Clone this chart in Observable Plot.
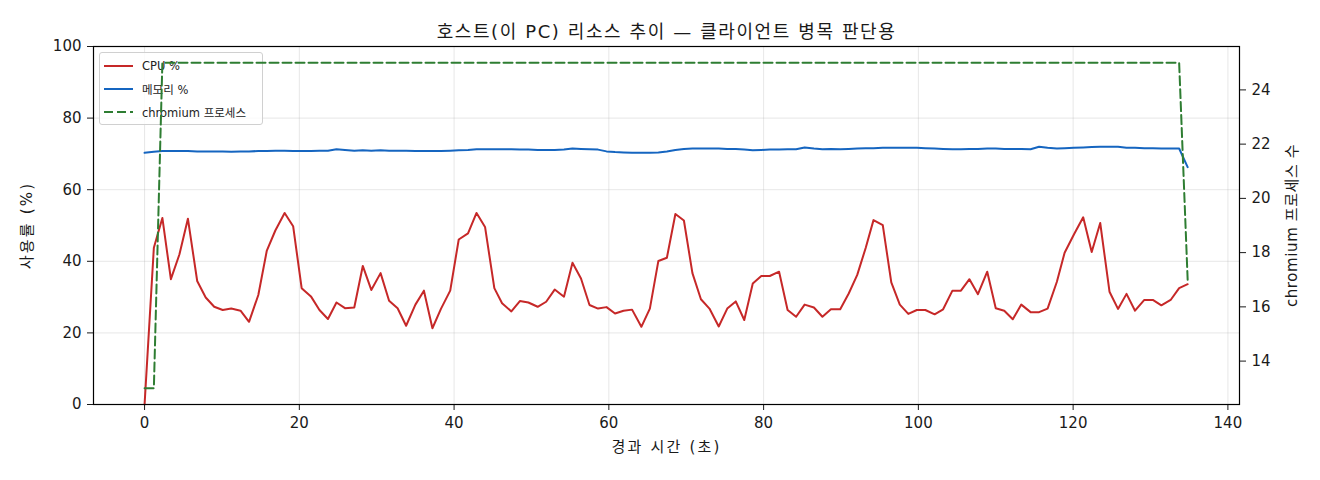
<!DOCTYPE html>
<html>
<head>
<meta charset="utf-8">
<script src="https://cdn.jsdelivr.net/npm/d3@7"></script>
<script src="https://cdn.jsdelivr.net/npm/@observablehq/plot@0.6"></script>
<style>
  body { margin: 0; background: #fff; }
  #wrap { position: relative; width: 1320px; height: 480px; font-family: 'DejaVu Sans', 'Noto Sans CJK KR', sans-serif; }
  #wrap svg { position: absolute; left: 0; top: 0; }
  #legend { position: absolute; left: 99px; top: 52px; width: 162px; height: 71px; border: 1px solid #d0d0d0; border-radius: 3px; background: rgba(255,255,255,0.8); font-size: 11.5px; color: #222; }
  #legend .row { position: absolute; left: 0; height: 20px; display: flex; align-items: center; white-space: nowrap; }
  #legend .row svg { position: static; margin-left: 4px; margin-right: 9px; }
</style>
</head>
<body>
<div id="wrap"></div>
<script>
const titleText = "호스트(이 PC) 리소스 추이 — 클라이언트 병목 판단용";
const xLabel = "경과 시간 (초)";
const yLabel = "사용률 (%)";
const y2Label = "chromium 프로세스 수";
const seriesNames = ["CPU %", "메모리 %", "chromium 프로세스"];
const seriesColors = ["#c62828", "#1565c0", "#2e7d32"];

const times = [
  0,1.2,2.3,3.4,4.5,5.6,6.8,7.9,9.0,10.1,
  11.2,12.4,13.5,14.7,15.8,16.9,18.1,19.2,20.3,21.5,
  22.6,23.7,24.8,25.9,27.1,28.2,29.3,30.5,31.6,32.7,
  33.8,35.0,36.1,37.2,38.3,39.5,40.6,41.8,42.9,44.0,
  45.2,46.2,47.4,48.5,49.6,50.8,51.9,53.0,54.2,55.3,
  56.4,57.5,58.6,59.7,60.8,61.9,63.0,64.2,65.3,66.4,
  67.5,68.6,69.7,70.8,71.9,73.0,74.2,75.3,76.4,77.5,
  78.6,79.7,80.8,82.0,83.1,84.2,85.3,86.5,87.6,88.7,
  89.9,91.0,92.1,93.2,94.2,95.4,96.5,97.6,98.7,99.8,
  100.9,102.1,103.2,104.4,105.5,106.6,107.7,108.9,110.0,111.1,
  112.2,113.3,114.5,115.6,116.7,117.9,118.9,120.1,121.3,122.4,
  123.5,124.7,125.8,126.9,128.0,129.2,130.3,131.4,132.6,133.7,134.8
];

const cpu = [
  0,43.8,52.1,35.0,41.9,51.9,34.5,29.9,27.3,26.4,
  26.8,26.2,23.1,30.6,43.0,48.6,53.5,49.8,32.5,30.2,
  26.4,23.9,28.5,26.9,27.1,38.7,32.0,36.7,29.0,26.9,
  22.0,27.9,31.8,21.3,26.7,31.8,46.1,47.8,53.5,49.6,
  32.5,28.3,26.0,28.9,28.5,27.3,28.7,32.1,30.1,39.6,
  35.2,27.8,26.8,27.2,25.4,26.2,26.5,21.7,26.8,40.1,
  41.0,53.2,51.4,36.7,29.4,26.8,21.8,26.8,28.8,23.6,
  33.8,35.9,35.9,37.1,26.4,24.5,27.9,27.1,24.5,26.6,
  26.6,31.0,36.2,43.8,51.5,50.1,34.1,27.9,25.3,26.4,
  26.4,25.2,26.6,31.8,31.8,35.0,30.8,37.1,26.9,26.2,
  23.8,27.9,25.8,25.8,26.8,34.3,42.4,47.5,52.3,42.6,
  50.7,31.5,26.7,30.9,26.2,29.2,29.2,27.7,29.2,32.5,33.6
];

const mem = [
  70.3,70.6,70.8,70.8,70.8,70.8,70.7,70.7,70.7,70.7,
  70.6,70.7,70.7,70.8,70.8,70.9,70.9,70.8,70.8,70.8,
  70.9,70.9,71.3,71.1,70.9,71.0,70.9,71.0,70.9,70.9,
  70.9,70.8,70.8,70.8,70.8,70.9,71.0,71.1,71.3,71.3,
  71.3,71.3,71.3,71.2,71.2,71.1,71.1,71.1,71.2,71.5,
  71.4,71.3,71.2,70.7,70.5,70.4,70.3,70.3,70.3,70.4,
  70.7,71.1,71.4,71.5,71.5,71.5,71.5,71.4,71.4,71.2,
  71.0,71.1,71.2,71.2,71.3,71.3,71.8,71.5,71.3,71.4,
  71.3,71.4,71.5,71.6,71.6,71.7,71.7,71.7,71.7,71.7,
  71.6,71.5,71.4,71.3,71.3,71.4,71.4,71.5,71.5,71.4,
  71.4,71.4,71.3,72.0,71.7,71.5,71.6,71.7,71.8,71.9,
  72.0,72.0,72.0,71.7,71.7,71.6,71.6,71.5,71.5,71.5,66.3
];

const procs = [
  13,13,25,25,25,25,25,25,25,25,25,25,25,25,25,25,25,25,25,25,
  25,25,25,25,25,25,25,25,25,25,25,25,25,25,25,25,25,25,25,25,
  25,25,25,25,25,25,25,25,25,25,25,25,25,25,25,25,25,25,25,25,
  25,25,25,25,25,25,25,25,25,25,25,25,25,25,25,25,25,25,25,25,
  25,25,25,25,25,25,25,25,25,25,25,25,25,25,25,25,25,25,25,25,
  25,25,25,25,25,25,25,25,25,25,25,25,25,25,25,25,25,25,25,25,
  17
];

const xTicks = [0,20,40,60,80,100,120,140];
const yTicks = [0,20,40,60,80,100];
const y2Ticks = [14,16,18,20,22,24];

const rows = times.map((t, i) => ({t, cpu: cpu[i], mem: mem[i], procs: procs[i]}));

const W = 1320, H = 480;
const margins = {marginLeft: 93, marginRight: 81, marginTop: 46, marginBottom: 76};
const xDomain = [-6.6, 141.5];
const font = "'DejaVu Sans', 'Noto Sans CJK KR', sans-serif";

const p1 = Plot.plot({
  width: W, height: H, ...margins,
  style: {fontFamily: font, fontSize: "15px", background: "white", color: "#1a1a1a", overflow: "visible"},
  x: {domain: xDomain},
  y: {domain: [0, 100]},
  marks: [
    Plot.gridX(xTicks, {stroke: "#b0b0b0", strokeOpacity: 0.3, strokeWidth: 1}),
    Plot.gridY(yTicks, {stroke: "#b0b0b0", strokeOpacity: 0.3, strokeWidth: 1}),
    Plot.line(rows, {x: "t", y: "cpu", stroke: seriesColors[0], strokeWidth: 2}),
    Plot.line(rows, {x: "t", y: "mem", stroke: seriesColors[1], strokeWidth: 2}),
    Plot.axisX(xTicks, {tickSize: 6, tickPadding: 7, label: null, fontSize: 15}),
    Plot.axisY(yTicks, {anchor: "left", tickSize: 6, tickPadding: 6, label: null, fontSize: 15}),
    Plot.frame({stroke: "#000", strokeWidth: 1.2}),
    Plot.text([titleText], {text: d => d, frameAnchor: "top", dy: -21, fontSize: 18}),
    Plot.text([xLabel], {text: d => d, frameAnchor: "bottom", dy: 47, fontSize: 15}),
    Plot.text([yLabel], {text: d => d, frameAnchor: "left", dx: -66, rotate: -90, textAnchor: "middle", fontSize: 15})
  ]
});

const p2 = Plot.plot({
  width: W, height: H, ...margins,
  style: {fontFamily: font, fontSize: "15px", background: "transparent", color: "#1a1a1a", overflow: "visible"},
  x: {domain: xDomain, axis: null},
  y: {domain: [12.4, 25.6]},
  marks: [
    Plot.line(rows, {x: "t", y: "procs", stroke: seriesColors[2], strokeWidth: 2, strokeDasharray: "9,4"}),
    Plot.axisY(y2Ticks, {anchor: "right", tickSize: 6, tickPadding: 6, label: null, fontSize: 15}),
    Plot.text([y2Label], {text: d => d, frameAnchor: "right", dx: 53, rotate: -90, textAnchor: "middle", fontSize: 15})
  ]
});

// widen spacing of the Korean titles/labels to match the reference font metrics
const spacing = new Map([[titleText, "1.6px"], [xLabel, "2.2px"], [yLabel, "2.2px"], [y2Label, "0.6px"]]);
[p1, p2].forEach(svg => {
  d3.select(svg).selectAll("text").each(function() {
    const s = spacing.get(this.textContent);
    if (s) this.setAttribute("letter-spacing", s);
  });
});

const wrap = document.getElementById("wrap");
wrap.appendChild(p1);

const legend = document.createElement("div");
legend.id = "legend";
seriesNames.forEach((name, i) => {
  const row = document.createElement("div");
  row.className = "row";
  row.style.top = (3 + i * 23) + "px";
  const dash = i === 2 ? ' stroke-dasharray="9,4"' : '';
  row.innerHTML = `<svg width="29" height="6"><line x1="0" y1="3" x2="29" y2="3" stroke="${seriesColors[i]}" stroke-width="2"${dash}/></svg><span>${name}</span>`;
  legend.appendChild(row);
});
wrap.appendChild(legend);

p2.style.pointerEvents = "none";
wrap.appendChild(p2);
</script>
</body>
</html>
